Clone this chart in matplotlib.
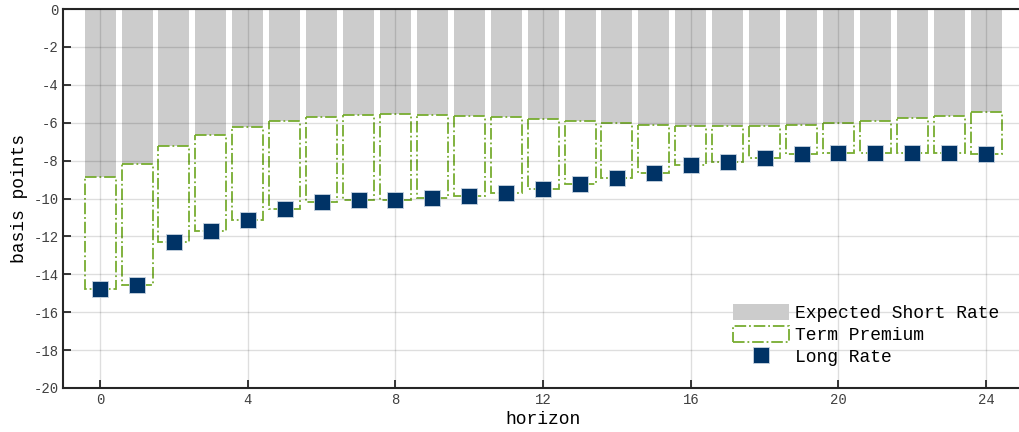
import numpy as np
import matplotlib.pyplot as plt

plt.rcParams['font.family'] = ['Liberation Mono', 'DejaVu Sans Mono']
plt.rcParams['axes.unicode_minus'] = False

horizon = np.arange(25)
short_rate = [-8.85, -8.20, -7.21, -6.63, -6.21, -5.89, -5.68, -5.58, -5.54,
              -5.58, -5.65, -5.72, -5.80, -5.91, -6.02, -6.10, -6.16, -6.17,
              -6.17, -6.10, -6.03, -5.93, -5.77, -5.63, -5.43]
long_rate = [-14.76, -14.58, -12.28, -11.72, -11.13, -10.54, -10.17, -10.06,
             -10.08, -9.97, -9.87, -9.69, -9.50, -9.22, -8.92, -8.64, -8.25,
             -8.06, -7.85, -7.67, -7.58, -7.58, -7.58, -7.58, -7.67]
short_rate = np.array(short_rate)
long_rate = np.array(long_rate)
term_premium = long_rate - short_rate

fig = plt.figure(figsize=(10.2, 4.32), dpi=100)
ax = fig.add_axes([0.062, 0.102, 0.941, 0.877])

w = 0.84
b1 = ax.bar(horizon, short_rate, width=w, color='#cccccc', zorder=1)
b2 = ax.bar(horizon, term_premium, bottom=short_rate, width=w, fill=False,
            edgecolor='#77ac30', linestyle='-.', linewidth=1.3, zorder=2)
m, = ax.plot(horizon, long_rate, 's', color='#003366', markersize=11,
             markeredgecolor='#c8d4e0', markeredgewidth=0.6, zorder=4)

ax.set_xlim(-1, 25)
ax.set_ylim(-20, 0)
ax.set_xticks(np.arange(0, 25, 4))
ax.set_yticks(np.arange(-20, 1, 2))
ax.grid(True, color='black', alpha=0.13, linewidth=1.0, zorder=3)
ax.set_axisbelow(False)

ax.tick_params(direction='in', length=6, width=1.3, colors='#262626',
               labelcolor='#404040', labelsize=10, top=False, right=False)
for side in ['left', 'bottom', 'top']:
    ax.spines[side].set_color('#262626')
    ax.spines[side].set_linewidth(1.5)
ax.spines['right'].set_visible(False)

ax.set_xlabel('horizon', fontsize=13, labelpad=3)
ax.set_ylabel('basis points', fontsize=13, labelpad=4)

ax.legend([b1, b2, m], ['Expected Short Rate', 'Term Premium', 'Long Rate'],
          loc='lower right', bbox_to_anchor=(0.992, 0.015), frameon=False,
          fontsize=13, handlelength=3.1, handleheight=0.95, handletextpad=0.3,
          labelspacing=0.22, numpoints=1)

fig.savefig('out.png', dpi=100)
